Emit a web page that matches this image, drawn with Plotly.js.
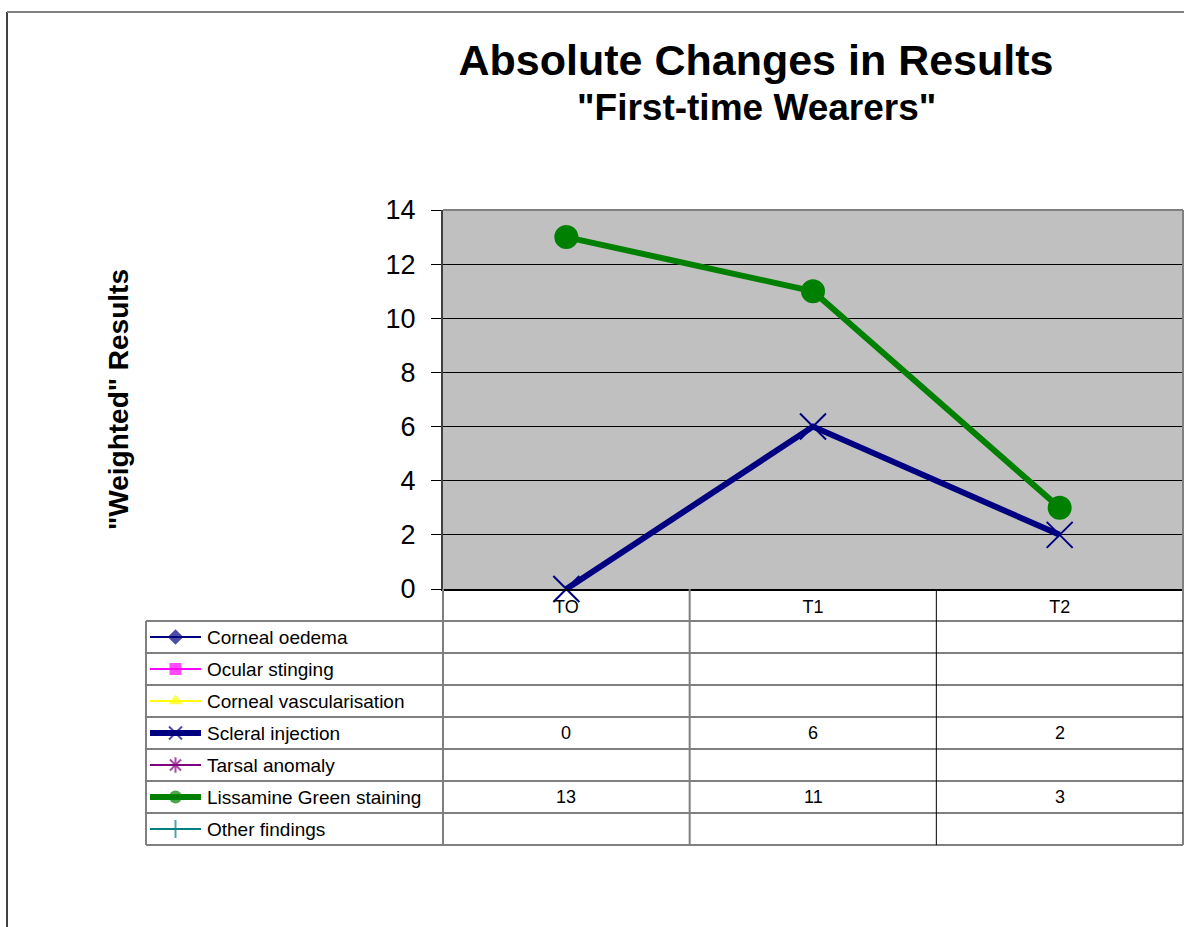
<!DOCTYPE html>
<html>
<head>
<meta charset="utf-8">
<script src="https://cdn.plot.ly/plotly-3.0.1.min.js"></script>
<style>
  html, body { margin: 0; padding: 0; background: #ffffff; }
  #chart { width: 1184px; height: 927px; }
</style>
</head>
<body>
<div id="chart"></div>
<script>
// ---------------- DATA ----------------
const categories = ['TO', 'T1', 'T2'];
const seriesNames = [
  'Corneal oedema',
  'Ocular stinging',
  'Corneal vascularisation',
  'Scleral injection',
  'Tarsal anomaly',
  'Lissamine Green staining',
  'Other findings'
];
const cornealOedema = [null, null, null];
const ocularStinging = [null, null, null];
const cornealVascularisation = [null, null, null];
const scleralInjection = [0, 6, 2];
const tarsalAnomaly = [null, null, null];
const lissamineGreen = [13, 11, 3];
const otherFindings = [null, null, null];
const yTickValues = [0, 2, 4, 6, 8, 10, 12, 14];

// ---------------- STYLE ----------------
const W = 1184, H = 927;
const FONT = 'Liberation Sans, Arial, Helvetica, sans-serif';
const px = x => x / W;
const py = y => 1 - y / H;

const seriesValues = [cornealOedema, ocularStinging, cornealVascularisation,
  scleralInjection, tarsalAnomaly, lissamineGreen, otherFindings];
const styles = [
  {color: '#000080', symbol: 'diamond', width: 2, msize: 12, open: false},
  {color: '#FF00FF', symbol: 'square', width: 2, msize: 12, open: false},
  {color: '#FFFF00', symbol: 'triangle-up', width: 2, msize: 13, open: false},
  {color: '#000080', symbol: 'x-thin-open', width: 6, msize: 13, open: true, plotSize: 26},
  {color: '#800080', symbol: 'asterisk-open', width: 2, msize: 13, open: true},
  {color: '#008000', symbol: 'circle', width: 6, msize: 13, open: false, plotSize: 22},
  {color: '#008080', symbol: 'cross-thin-open', width: 2, msize: 13, open: true}
];

// plot area pixel geometry
const PL = 443, PR = 1183, PT = 210, PB = 589;
// table geometry
const TL = 146, ROW0 = 621, ROWH = 32, NROWS = seriesNames.length;
const TB = ROW0 + ROWH * NROWS;

const traces = [];
// main series
seriesValues.forEach((vals, i) => {
  const s = styles[i];
  traces.push({
    type: 'scatter', mode: 'lines+markers',
    x: categories, y: vals, name: seriesNames[i],
    xaxis: 'x', yaxis: 'y', showlegend: false, cliponaxis: false,
    line: {color: s.color, width: s.width},
    marker: {symbol: s.symbol, size: s.plotSize || s.msize, color: s.color,
      line: {color: s.color, width: 2}},
    hoverinfo: 'name+y'
  });
});
// legend keys inside table (auxiliary axes)
seriesNames.forEach((name, i) => {
  const s = styles[i];
  traces.push({
    type: 'scatter', mode: 'lines+markers',
    x: [0, 1, 2], y: [i, i, i], xaxis: 'x2', yaxis: 'y2',
    showlegend: false, hoverinfo: 'skip', cliponaxis: false,
    line: {color: s.color, width: s.width},
    marker: {symbol: s.symbol, size: [0, s.msize, 0], color: s.color,
      line: {color: s.color, width: s.open ? 2 : 0}}
  });
});

const shapes = [];
// grey plot-area background (below gridlines)
shapes.push({
  type: 'rect', xref: 'paper', yref: 'paper', layer: 'below',
  x0: px(PL), x1: px(PR), y0: py(PB), y1: py(PT),
  fillcolor: '#c0c0c0', line: {width: 0}
});
const line = (x0, y0, x1, y1, color, width) => shapes.push({
  type: 'line', xref: 'paper', yref: 'paper', layer: 'above',
  x0: px(x0), y0: py(y0), x1: px(x1), y1: py(y1),
  line: {color: color, width: width}
});
// outer chart border
line(7, 12, 7, H + 5, '#404040', 2);
line(7, 12, W + 5, 12, '#808080', 2);
// plot area border (top/right)
line(PL, PT, PR, PT, '#808080', 2);
line(PR, PT, PR, TB, '#808080', 2);
// table horizontal lines
for (let k = 0; k < NROWS; k++) {
  line(TL, ROW0 + ROWH * k, PR, ROW0 + ROWH * k, '#000000', 1);
}
line(TL, TB, PR, TB, '#808080', 2);
// table vertical lines
line(TL, ROW0, TL, TB, '#808080', 2);
line(PL, PB, PL, TB, '#808080', 2);
for (let j = 1; j < categories.length; j++) {
  shapes.push({
    type: 'line', xref: 'x', yref: 'paper', layer: 'above',
    x0: j - 0.5, x1: j - 0.5, y0: py(PB), y1: py(TB),
    line: {color: j === 1 ? '#808080' : '#000000', width: j === 1 ? 2 : 1}
  });
}

const annotations = [];
// subtitle
annotations.push({
  xref: 'paper', yref: 'paper', x: px(756), y: py(107),
  xanchor: 'center', yanchor: 'middle', showarrow: false,
  text: '<b>"First-time Wearers"</b>',
  font: {family: FONT, size: 37, color: '#000'}
});
// y-axis title
annotations.push({
  xref: 'paper', yref: 'paper', x: px(118), y: py(400),
  xanchor: 'center', yanchor: 'middle', showarrow: false, textangle: -90,
  text: '<b>"Weighted" Results</b>',
  font: {family: FONT, size: 28, color: '#000'}
});
// legend names and table values
seriesNames.forEach((name, i) => {
  const yc = py(ROW0 + ROWH * i + ROWH / 2);
  annotations.push({
    xref: 'paper', yref: 'paper', x: px(205), y: yc,
    xanchor: 'left', yanchor: 'middle', showarrow: false,
    text: name, font: {family: FONT, size: 19, color: '#000'}
  });
  seriesValues[i].forEach((v, j) => {
    if (v === null) return;
    annotations.push({
      xref: 'x', yref: 'paper', x: categories[j], y: yc,
      xanchor: 'center', yanchor: 'middle', showarrow: false,
      text: String(v), font: {family: FONT, size: 18, color: '#000'}
    });
  });
});

const layout = {
  width: W, height: H,
  margin: {l: 0, r: 0, t: 0, b: 0, pad: 0},
  paper_bgcolor: '#ffffff',
  plot_bgcolor: 'rgba(0,0,0,0)',
  showlegend: false,
  title: {
    text: '<b>Absolute Changes in Results</b>',
    font: {family: FONT, size: 43, color: '#000'},
    x: px(756), xanchor: 'center', xref: 'paper',
    y: py(60), yanchor: 'middle', yref: 'paper'
  },
  xaxis: {
    domain: [px(PL), px(PR)],
    type: 'category', range: [-0.5, categories.length - 0.5],
    showgrid: false, zeroline: false,
    showline: true, linecolor: '#000000', linewidth: 2,
    ticks: '', tickfont: {family: FONT, size: 18, color: '#000'},
    ticklabelstandoff: 0,
    fixedrange: true
  },
  yaxis: {
    domain: [py(PB), py(PT)],
    range: [0, 14], tickvals: yTickValues, ticktext: yTickValues.map(String),
    showgrid: true, gridcolor: '#000000', gridwidth: 1,
    zeroline: false,
    showline: true, linecolor: '#404040', linewidth: 2,
    ticks: 'outside', ticklen: 10, tickcolor: '#000000', tickwidth: 1,
    tickfont: {family: FONT, size: 27, color: '#000'},
    ticklabelstandoff: 10,
    fixedrange: true
  },
  xaxis2: {
    domain: [px(150), px(201)], range: [0, 2], anchor: 'y2',
    visible: false, fixedrange: true
  },
  yaxis2: {
    domain: [py(TB), py(ROW0)], range: [NROWS - 0.5, -0.5], anchor: 'x2',
    visible: false, fixedrange: true
  },
  shapes: shapes,
  annotations: annotations
};

Plotly.newPlot('chart', traces, layout, {displayModeBar: false, staticPlot: true});
</script>
</body>
</html>
